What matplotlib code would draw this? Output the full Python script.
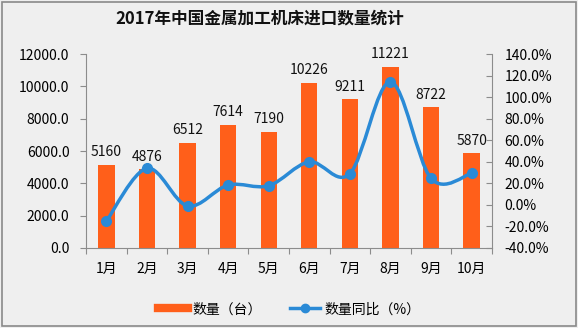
import numpy as np
import matplotlib
matplotlib.use("Agg")
import matplotlib.pyplot as plt
from matplotlib.path import Path
from matplotlib.patches import PathPatch, Rectangle
from matplotlib.lines import Line2D

plt.rcParams['font.family'] = ['Noto Sans CJK SC', 'DejaVu Sans']

# data
months = ['1月', '2月', '3月', '4月', '5月', '6月', '7月', '8月', '9月', '10月']
quantity = [5160, 4876, 6512, 7614, 7190, 10226, 9211, 11221, 8722, 5870]
yoy = [-15.0, 34.0, -1.0, 18.4, 17.8, 40.0, 29.0, 114.3, 24.6, 29.3]
left_ticks = [0, 2000, 4000, 6000, 8000, 10000, 12000]
right_ticks = [-40, -20, 0, 20, 40, 60, 80, 100, 120, 140]

bar_color = '#FF5F1A'
line_color = '#2A8AD6'
axis_color = '#8C8C8C'

fig = plt.figure(figsize=(5.78, 3.28), dpi=100)
fig.patch.set_facecolor('#EFEFEF')
fig.patches.append(Rectangle((0.003, 0.006), 0.994, 0.988, transform=fig.transFigure,
                             fill=False, edgecolor='#8A8A8A', linewidth=1.2))

ax = fig.add_axes([0.149, 0.244, 0.702, 0.591])
ax.set_facecolor('none')
x = np.arange(len(months))

ax.bar(x, quantity, width=0.4, color=bar_color, zorder=2)
for xi, q in zip(x, quantity):
    ax.annotate(str(q), (xi, q), xytext=(0, 4), textcoords='offset points',
                ha='center', va='bottom', fontsize=10, color='#111111', zorder=5)

ax.set_xlim(-0.5, len(months) - 0.5)
ax.set_ylim(0, 12000)
ax.set_yticks(left_ticks, labels=[f'{v:.1f}' for v in left_ticks])
ax.set_xticks(np.arange(-0.5, len(months), 1), labels=[''] * (len(months) + 1))
ax.set_xticks(x, labels=months, minor=True)
ax.tick_params(axis='x', which='major', length=4, color=axis_color, direction='out')
ax.tick_params(axis='x', which='minor', length=0, labelsize=10, pad=10)
ax.tick_params(axis='y', length=4, color=axis_color, labelsize=10, direction='out', pad=8)
for s in ['top', 'right']:
    ax.spines[s].set_visible(False)
for s in ['left', 'bottom']:
    ax.spines[s].set_color(axis_color)

ax2 = ax.twinx()
ax2.set_ylim(-40, 140)
ax2.set_yticks(right_ticks, labels=[f'{v:.1f}%' for v in right_ticks])
ax2.tick_params(axis='y', length=4, color=axis_color, labelsize=10, direction='in', pad=9)
for s in ['top', 'left', 'bottom']:
    ax2.spines[s].set_visible(False)
ax2.spines['right'].set_color(axis_color)

# smoothed line (Catmull-Rom -> cubic bezier)
pts = np.column_stack([x, yoy]).astype(float)
verts = [pts[0]]
codes = [Path.MOVETO]
n = len(pts)
for i in range(n - 1):
    p0 = pts[max(i - 1, 0)]
    p1 = pts[i]
    p2 = pts[i + 1]
    p3 = pts[min(i + 2, n - 1)]
    c1 = p1 + (p2 - p0) / 6.0
    c2 = p2 - (p3 - p1) / 6.0
    verts += [c1, c2, p2]
    codes += [Path.CURVE4] * 3
ax2.add_patch(PathPatch(Path(verts, codes), facecolor='none', edgecolor=line_color,
                        linewidth=2.5, zorder=3))
ax2.plot(x, yoy, 'o', color=line_color, markersize=7, zorder=4)

fig.text(0.45, 0.945, '2017年中国金属加工机床进口数量统计', ha='center', va='center',
         fontsize=12, fontweight='bold', color='#111111')

handles = [Line2D([0], [0], color=bar_color, linewidth=6),
           Line2D([0], [0], color=line_color, linewidth=2.5, marker='o', markersize=6)]
fig.legend(handles, ['数量（台）', '数量同比（%）'], loc='center', bbox_to_anchor=(0.5, 0.057),
           ncol=2, frameon=False, fontsize=10, handlelength=2.2, columnspacing=2.0,
           handletextpad=0.3)

fig.savefig('out.png', dpi=100, facecolor=fig.get_facecolor())
